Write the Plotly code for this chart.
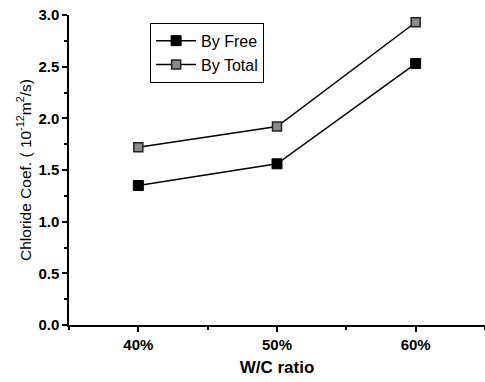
import plotly.graph_objects as go

categories = ["40%", "50%", "60%"]
by_free = [1.35, 1.56, 2.53]
by_total = [1.72, 1.92, 2.93]
y_ticks = [0.0, 0.5, 1.0, 1.5, 2.0, 2.5, 3.0]

xpos = list(range(len(categories)))
font = "Liberation Sans, Arial, sans-serif"

fig = go.Figure()
fig.add_trace(go.Scatter(
    x=xpos, y=by_free, name="By Free", mode="lines+markers",
    line=dict(color="black", width=1.5),
    marker=dict(symbol="square", size=10, color="black", line=dict(color="black", width=1)),
    cliponaxis=False,
))
fig.add_trace(go.Scatter(
    x=xpos, y=by_total, name="By Total", mode="lines+markers",
    line=dict(color="black", width=1.5),
    marker=dict(symbol="square", size=9, color="#8a8a8a", line=dict(color="#222222", width=1.5)),
    cliponaxis=False,
))

fig.update_layout(
    width=485, height=382,
    margin=dict(l=69, r=0, t=15, b=57),
    paper_bgcolor="white", plot_bgcolor="white",
    font=dict(family=font, color="black", size=14),
    showlegend=True,
    legend=dict(
        x=0.195, y=0.975, xanchor="left", yanchor="top",
        bordercolor="black", borderwidth=1, bgcolor="white",
        font=dict(family=font, size=16, color="black"),
        tracegroupgap=0, itemwidth=40,
    ),
)
fig.update_xaxes(
    range=[-0.5, 2.5], tickvals=xpos, ticktext=[f"<b>{c}</b>" for c in categories],
    showline=True, linecolor="black", linewidth=1.5,
    ticks="outside", ticklen=5, tickcolor="black", tickwidth=1.5,
    showgrid=False, zeroline=False,
    minor=dict(tick0=0.5, dtick=1, ticks="outside", ticklen=3, tickcolor="black"),
    tickfont=dict(family=font, size=15),
    title=dict(text="<b>W/C ratio</b>", font=dict(family=font, size=17), standoff=9),
)
fig.update_yaxes(
    range=[0, 3.0], tickvals=y_ticks, ticktext=[f"<b>{v:.1f}</b>" for v in y_ticks],
    showline=True, linecolor="black", linewidth=1.5,
    ticks="outside", ticklen=5, tickcolor="black", tickwidth=1.5,
    showgrid=False, zeroline=False,
    minor=dict(dtick=0.25, ticks="outside", ticklen=3, tickcolor="black"),
    tickfont=dict(family=font, size=15),
    title=dict(text="Chloride Coef. ( 10<sup>-12</sup>m<sup>2</sup>/s)", font=dict(family=font, size=15.5), standoff=3),
)

fig.write_html("out.html")
